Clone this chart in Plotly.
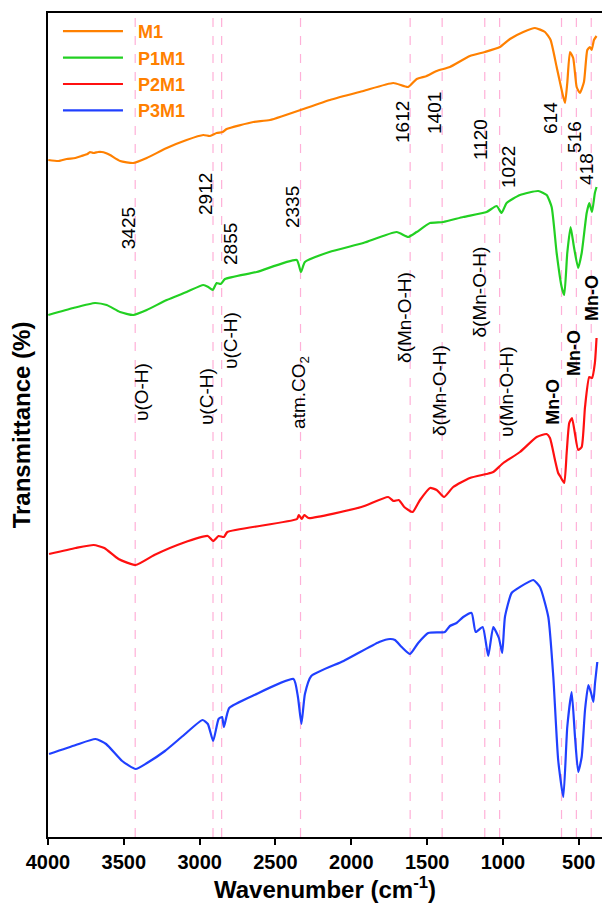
import plotly.graph_objects as go

# ---------------- data ----------------
series_names = ["M1", "P1M1", "P2M1", "P3M1"]

wn_m1 = [3998, 3930, 3877, 3820, 3780, 3740, 3723, 3700, 3670, 3646, 3620, 3591, 3524, 3438, 3349,
         3217, 3086, 2976, 2932, 2888, 2848, 2822, 2646, 2536, 2141, 1921, 1723, 1625, 1569, 1503,
         1437, 1350, 1218, 1119, 1020, 954, 866, 789, 723, 686, 646, 613, 591, 576, 558, 537, 514,
         493, 466, 444, 427, 415, 400, 383]
t_m1 = [677, 676, 678, 679, 681, 683, 685, 684, 685, 685, 684, 682, 676, 674, 679,
        689, 697, 702, 701, 704, 705, 708, 715, 717, 737, 746, 754, 750, 758, 761,
        766, 770, 781, 785, 790, 798, 805, 809, 805, 797, 770, 747, 734, 754, 785, 779, 750,
        744, 755, 787, 790, 787, 797, 801]

wn_p1m1 = [3998, 3833, 3690, 3613, 3525, 3438, 3349, 3217, 3086, 2976, 2943, 2914, 2888, 2861,
           2833, 2624, 2360, 2332, 2306, 2145, 1921, 1701, 1625, 1569, 1481, 1394, 1262, 1108,
           1042, 1009, 976, 888, 767, 712, 679, 646, 613, 596, 576, 554, 532, 504, 481, 448,
           431, 413, 394, 383]
t_p1m1 = [522, 529, 534, 532, 525, 522, 527, 537, 545, 552, 550, 547, 554, 553,
          558, 565, 577, 565, 575, 585, 594, 605, 600, 605, 614, 615, 620, 625,
          631, 624, 634, 642, 646, 642, 630, 584, 550, 542, 584, 610, 590, 569, 584, 624,
          634, 625, 644, 650]

wn_p2m1 = [3993, 3817, 3699, 3629, 3535, 3422, 3299, 3111, 2946, 2911, 2875, 2840, 2817, 2358,
           2346, 2327, 2310, 2282, 1934, 1757, 1721, 1687, 1651, 1596, 1547, 1481, 1437, 1389,
           1328, 1218, 1108, 1064, 998, 888, 778, 712, 690, 657, 636, 620, 596, 580, 563, 545,
           526, 504, 481, 459, 431, 413, 394, 383]
t_p2m1 = [283, 289, 292, 289, 278, 272, 282, 294, 301, 296, 301, 300, 305, 318,
          322, 318, 322, 319, 330, 340, 336, 337, 330, 325, 337, 349, 347, 340,
          350, 359, 363, 365, 374, 385, 400, 403, 399, 377, 364, 360, 354, 384, 414, 419,
          404, 387, 390, 430, 460, 459, 474, 499]

wn_p3m1 = [3993, 3817, 3687, 3617, 3511, 3422, 3347, 3229, 3111, 2981, 2946, 2911, 2875, 2852,
           2840, 2805, 2640, 2381, 2352, 2329, 2306, 2264, 2051, 1816, 1745, 1712, 1668, 1613,
           1559, 1493, 1383, 1350, 1306, 1262, 1207, 1180, 1134, 1097, 1064, 1027, 1005, 987,
           943, 888, 800, 756, 701, 668, 636, 602, 576, 547, 525, 504, 481, 459, 437, 419, 404,
           393, 378]
t_p3m1 = [83, 92, 98, 93, 76, 68, 74, 86, 101, 117, 113, 96, 118, 120,
          110, 129, 142, 158, 140, 113, 143, 161, 176, 195, 198, 197, 190, 183,
          194, 204, 205, 211, 214, 220, 224, 205, 210, 181, 210, 199, 184, 220,
          244, 250, 257, 250, 220, 160, 77, 40, 110, 145, 100, 65, 80, 127, 152, 144, 135,
          154, 175]

peak_positions = [3425, 2912, 2855, 2335, 1612, 1401, 1120, 1022, 614, 516, 418]
peak_labels = ["3425", "2912", "2855", "2335", "1612", "1401", "1120", "1022", "614", "516", "418"]

band_labels = ["υ(O-H)", "υ(C-H)", "υ(C-H)", "atm.CO<sub>2</sub>", "δ(Mn-O-H)", "δ(Mn-O-H)",
               "δ(Mn-O-H)", "υ(Mn-O-H)", "<b>Mn-O</b>", "<b>Mn-O</b>", "<b>Mn-O</b>"]

# ---------------- styling / placement ----------------
FONT = "Liberation Sans, Arial, sans-serif"
colors = ["#FF8000", "#22D022", "#FF1010", "#2040FF"]

# label positions (x in cm-1, y in plot units)
num_pos = [(3471, 609), (2965, 643), (2800, 593), (2391, 630), (1666, 715), (1455, 724),
           (1152, 698), (967, 670), (690, 719), (532, 700), (453, 668)]
band_pos = [(3387, 445), (2958, 440), (2800, 497), (2339, 445), (1653, 520), (1422, 447),
            (1155, 545), (980, 445), (671, 435), (532, 484), (413, 539)]

fig = go.Figure()
for name, wn, t, c in zip(series_names, [wn_m1, wn_p1m1, wn_p2m1, wn_p3m1],
                          [t_m1, t_p1m1, t_p2m1, t_p3m1], colors):
    fig.add_trace(go.Scatter(x=wn, y=t, mode="lines", name="\u00a0\u00a0" + name,
                             line=dict(color=c, width=2.2, shape="spline", smoothing=0.5)))

for p in peak_positions:
    fig.add_shape(type="line", xref="x", yref="paper", x0=p, x1=p, y0=0, y1=1,
                  line=dict(color="#FFB0D8", width=1.2, dash="dash"), layer="below")

for lab, (x, y) in zip(peak_labels, num_pos):
    fig.add_annotation(x=x, y=y, xref="x", yref="y", text=lab, showarrow=False,
                       textangle=-90, font=dict(family=FONT, size=19, color="black"))
for lab, (x, y) in zip(band_labels, band_pos):
    fig.add_annotation(x=x, y=y, xref="x", yref="y", text=lab, showarrow=False,
                       textangle=-90, font=dict(family=FONT, size=19 if "Mn-O</b>" not in lab else 18,
                                                color="black"))

fig.update_layout(
    width=602, height=907,
    margin=dict(l=48, r=0, t=13, b=70),
    paper_bgcolor="white", plot_bgcolor="white",
    showlegend=True,
    legend=dict(x=0.018, y=1.0, xanchor="left", yanchor="top", bgcolor="rgba(0,0,0,0)",
                font=dict(family=FONT, size=18, color="#FF8000", weight="bold"),
                itemwidth=60, tracegroupgap=0),
    xaxis=dict(range=[4000, 347], showgrid=False, zeroline=False, automargin=False,
               showline=True, linecolor="black", linewidth=2, mirror=True,
               ticks="outside", ticklen=6, tickwidth=2, tickcolor="black",
               tickvals=[4000, 3500, 3000, 2500, 2000, 1500, 1000, 500],
               tickfont=dict(family=FONT, size=20, color="black", weight="bold"),
               title=dict(text="Wavenumber (cm<sup>-1</sup>)", standoff=2,
                          font=dict(family=FONT, size=24, color="black", weight="bold"))),
    yaxis=dict(range=[0, 824], showgrid=False, zeroline=False, automargin=False,
               showline=True, linecolor="black", linewidth=2, mirror=False,
               showticklabels=False, ticks="",
               title=dict(text="Transmittance (%)", standoff=9,
                          font=dict(family=FONT, size=24, color="black", weight="bold"))),
)

fig.write_html("out.html", config={"displayModeBar": False},
               post_script="document.body.style.margin='0';document.body.style.padding='0';")
